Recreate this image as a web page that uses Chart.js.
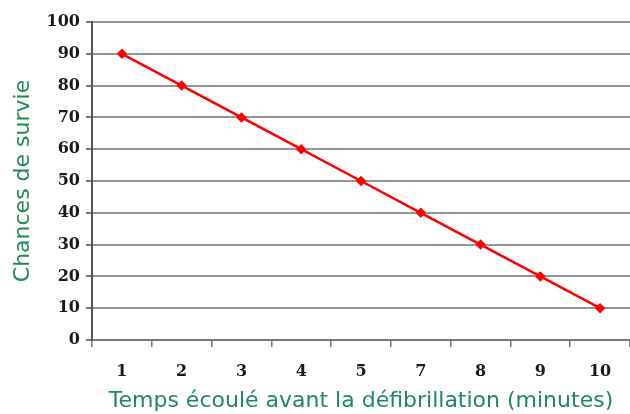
<!DOCTYPE html>
<html>
<head>
<meta charset="utf-8">
<script src="https://cdn.jsdelivr.net/npm/chart.js@4"></script>
<style>
  html, body { margin: 0; padding: 0; background: #fff; }
  #wrap { width: 630px; height: 414px; }
</style>
</head>
<body>
<div id="wrap"><canvas id="grafico"></canvas></div>
<script>
// Données (le 6 manque sur l'axe d'origine)
const minutes = ['1', '2', '3', '4', '5', '7', '8', '9', '10'];
const chances = [90, 80, 70, 60, 50, 40, 30, 20, 10];

const vert = '#1f8a5a';
const policeTicks = { family: '"DejaVu Serif", serif', size: 16, weight: 'bold' };
const policeTitre = { family: '"DejaVu Sans", sans-serif', size: 22 };

const ctx = document.getElementById('grafico').getContext('2d');
new Chart(ctx, {
    type: 'line',
    data: {
        labels: minutes,
        datasets: [{
            data: chances,
            borderColor: '#ff0000',
            backgroundColor: '#ff0000',
            borderWidth: 2.5,
            pointRadius: 3.5,
            pointStyle: 'rectRot',
            tension: 0
        }]
    },
    options: {
        responsive: true,
        maintainAspectRatio: false,
        animation: false,
        layout: { autoPadding: false, padding: { top: 22, right: 0, left: 10, bottom: 0 } },
        plugins: { legend: { display: false }, tooltip: { enabled: false } },
        scales: {
            x: {
                offset: true,
                grid: { display: true, drawOnChartArea: false, offset: true, color: '#777', lineWidth: 1.5, tickLength: 7 },
                border: { color: '#777', width: 2 },
                ticks: { color: '#1a1a1a', font: policeTicks, padding: 15 },
                title: { display: true, text: 'Temps écoulé avant la défibrillation (minutes)', color: vert, font: policeTitre, padding: { top: 0, bottom: 0 } },
                afterFit: (s) => { s.height = 74; s.paddingLeft = 0; s.paddingRight = 0; }
            },
            y: {
                min: 0,
                max: 100,
                ticks: { stepSize: 10, color: '#1a1a1a', font: policeTicks, padding: 6 },
                grid: { color: '#959595', lineWidth: 2, tickLength: 6, tickColor: '#777' },
                border: { color: '#555', width: 2 },
                title: { display: true, text: 'Chances de survie', color: vert, font: policeTitre, padding: { top: 0, bottom: 8 } },
                afterFit: (s) => { s.width = 82; }
            }
        }
    }
});
</script>
</body>
</html>
